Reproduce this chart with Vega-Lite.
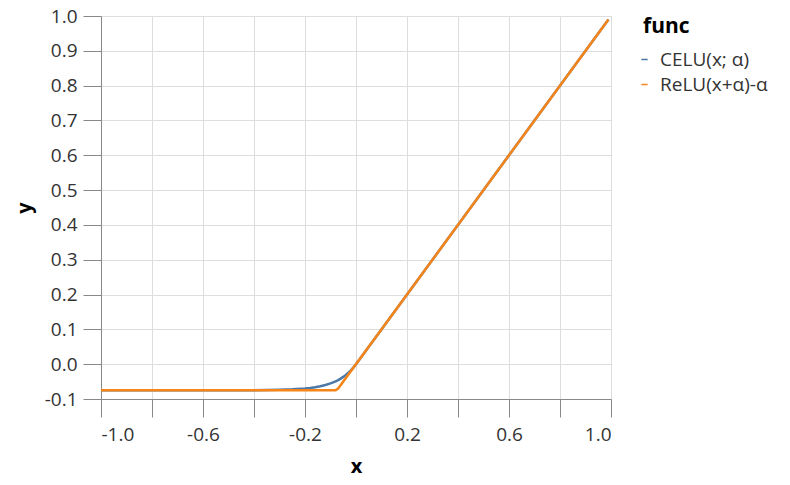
{
  "$schema": "https://vega.github.io/schema/vega-lite/v6.json",
  "autosize": {"type": "none"},
  "padding": {"left": 101, "top": 16, "right": 179, "bottom": 86},
  "width": 510,
  "height": 383,
  "config": {
    "font": "Open Sans",
    "view": {"stroke": "#dddddd"},
    "axis": {"labelFontSize": 19, "titleFontSize": 20, "titleFontWeight": "bold", "tickSize": 18, "labelPadding": 6, "titlePadding": 10, "labelColor": "#333333", "titleColor": "#000000", "gridColor": "#dddddd", "domainColor": "#888888", "tickColor": "#888888"},
    "legend": {"labelFontSize": 19, "titleFontSize": 21, "titleFontWeight": "bold", "labelColor": "#333333", "titleColor": "#000000", "offset": 29, "symbolSize": 40, "symbolOffset": -8, "labelOffset": 6, "rowPadding": 5, "titlePadding": 13}
  },
  "data": {"values": [
    {"x": -1.0, "y": -0.075, "func": "CELU(x; α)"},
    {"x": -0.5, "y": -0.0749, "func": "CELU(x; α)"},
    {"x": -0.4, "y": -0.07464, "func": "CELU(x; α)"},
    {"x": -0.3, "y": -0.07363, "func": "CELU(x; α)"},
    {"x": -0.25, "y": -0.07232, "func": "CELU(x; α)"},
    {"x": -0.2, "y": -0.06979, "func": "CELU(x; α)"},
    {"x": -0.18, "y": -0.0682, "func": "CELU(x; α)"},
    {"x": -0.16, "y": -0.06612, "func": "CELU(x; α)"},
    {"x": -0.14, "y": -0.0634, "func": "CELU(x; α)"},
    {"x": -0.12, "y": -0.05986, "func": "CELU(x; α)"},
    {"x": -0.1, "y": -0.05523, "func": "CELU(x; α)"},
    {"x": -0.09, "y": -0.05241, "func": "CELU(x; α)"},
    {"x": -0.08, "y": -0.04919, "func": "CELU(x; α)"},
    {"x": -0.07, "y": -0.04551, "func": "CELU(x; α)"},
    {"x": -0.06, "y": -0.0413, "func": "CELU(x; α)"},
    {"x": -0.05, "y": -0.03649, "func": "CELU(x; α)"},
    {"x": -0.04, "y": -0.031, "func": "CELU(x; α)"},
    {"x": -0.03, "y": -0.02473, "func": "CELU(x; α)"},
    {"x": -0.02, "y": -0.01756, "func": "CELU(x; α)"},
    {"x": -0.01, "y": -0.00936, "func": "CELU(x; α)"},
    {"x": 0.0, "y": 0.0, "func": "CELU(x; α)"},
    {"x": 0.99, "y": 0.99, "func": "CELU(x; α)"},
    {"x": -1.0, "y": -0.075, "func": "ReLU(x+α)-α"},
    {"x": -0.08, "y": -0.075, "func": "ReLU(x+α)-α"},
    {"x": -0.07, "y": -0.07, "func": "ReLU(x+α)-α"},
    {"x": 0.99, "y": 0.99, "func": "ReLU(x+α)-α"}
  ]},
  "mark": {"type": "line", "strokeWidth": 2.5},
  "encoding": {
    "x": {"field": "x", "type": "quantitative", "title": "x", "scale": {"domain": [-1, 1]},
      "axis": {"values": [-1, -0.8, -0.6, -0.4, -0.2, 0, 0.2, 0.4, 0.6, 0.8, 1], "labelExpr": "abs(round(datum.value*10)) % 4 == 2 ? replace(datum.label, '\u2212', '-') : ''", "labelPadding": 8, "titlePadding": 12}},
    "y": {"field": "y", "type": "quantitative", "title": "y", "scale": {"domain": [-0.1, 1]},
      "axis": {"labelExpr": "replace(datum.label, '\u2212', '-')"}},
    "color": {"field": "func", "type": "nominal", "title": "func", "scale": {"range": ["#4c78a8", "#f58518"]}}
  }
}
